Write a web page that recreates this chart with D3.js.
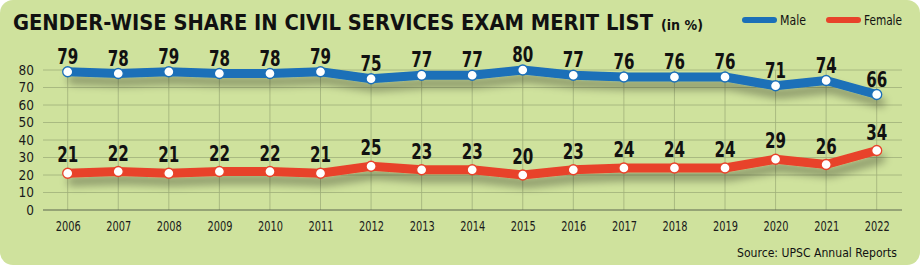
<!DOCTYPE html>
<html>
<head>
<meta charset="utf-8">
<script src="https://cdn.jsdelivr.net/npm/d3@7"></script>
<style>
  body { margin: 0; background: #fff; }
  svg { display: block; }
  text { font-family: "DejaVu Sans Condensed", "DejaVu Sans", sans-serif; }
</style>
</head>
<body>
<div id="container"></div>
<script>
// years and shares (in %)
const years = [2006, 2007, 2008, 2009, 2010, 2011, 2012, 2013, 2014, 2015, 2016, 2017, 2018, 2019, 2020, 2021, 2022];
const male = [79, 78, 79, 78, 78, 79, 75, 77, 77, 80, 77, 76, 76, 76, 71, 74, 66];
const female = [21, 22, 21, 22, 22, 21, 25, 23, 23, 20, 23, 24, 24, 24, 29, 26, 34];
const yTicks = [0, 10, 20, 30, 40, 50, 60, 70, 80];

const w = 923;
const h = 268;

const svg = d3.select("#container")
  .append("svg")
  .attr("width", w)
  .attr("height", h);

const defs = svg.append("defs");
const shadow = defs.append("filter")
  .attr("id", "shadow")
  .attr("x", "-10%").attr("y", "-60%")
  .attr("width", "120%").attr("height", "300%");
shadow.append("feGaussianBlur").attr("in", "SourceAlpha").attr("stdDeviation", 4);
shadow.append("feOffset").attr("dx", 4).attr("dy", 8).attr("result", "blur");
shadow.append("feComponentTransfer").append("feFuncA").attr("type", "linear").attr("slope", 0.35);
const merge = shadow.append("feMerge");
merge.append("feMergeNode");
merge.append("feMergeNode").attr("in", "SourceGraphic");

//THE PANEL
svg.append("rect")
  .attr("x", 0)
  .attr("y", 0)
  .attr("width", 920)
  .attr("height", 265)
  .attr("rx", 13)
  .attr("fill", "#cfe29d");

//THE SCALES
const xScale = d3.scalePoint()
  .domain(years)
  .range([67.7, 876.7]);

const yScale = d3.scaleLinear()
  .domain([0, 80])
  .range([210, 70]);

//THE GRID
svg.append("g")
  .selectAll("line")
  .data(yTicks.slice(1))
  .join("line")
  .attr("x1", 43)
  .attr("x2", 902)
  .attr("y1", d => yScale(d))
  .attr("y2", d => yScale(d))
  .attr("stroke", "#9fb07a")
  .attr("stroke-width", 0.8);

svg.append("g")
  .selectAll("line")
  .data(years)
  .join("line")
  .attr("x1", d => xScale(d))
  .attr("x2", d => xScale(d))
  .attr("y1", yScale(80))
  .attr("y2", yScale(0))
  .attr("stroke", "#9fb07a")
  .attr("stroke-width", 0.8);

svg.append("line")
  .attr("x1", 43)
  .attr("x2", 902)
  .attr("y1", yScale(0))
  .attr("y2", yScale(0))
  .attr("stroke", "#5d6650")
  .attr("stroke-width", 1.2);

//THE AXES
const yAxis = d3.axisLeft(yScale).tickValues(yTicks).tickSize(0).tickPadding(0);
svg.append("g")
  .attr("transform", "translate(34,0)")
  .call(yAxis)
  .call(g => g.select(".domain").remove())
  .call(g => g.selectAll("text")
    .attr("font-family", null)
    .attr("font-size", 13.5)
    .attr("fill", "#1a1a1a"));

const xAxis = d3.axisBottom(xScale).tickSize(0).tickPadding(0).tickFormat(d3.format("d"));
svg.append("g")
  .attr("transform", "translate(0,221)")
  .call(xAxis)
  .call(g => g.select(".domain").remove())
  .call(g => g.selectAll("text")
    .attr("font-family", null)
    .attr("font-size", 14)
    .attr("fill", "#1a1a1a")
    .attr("textLength", 25)
    .attr("lengthAdjust", "spacingAndGlyphs"));

//THE LINES
const series = [
  { name: "Male", values: male, color: "#1b6fb8", gap: 8 },
  { name: "Female", values: female, color: "#e8432a", gap: 11 }
];

const line = d3.line()
  .x((d, i) => xScale(years[i]))
  .y(d => yScale(d));

series.forEach(s => {
  svg.append("path")
    .datum(s.values)
    .attr("d", line)
    .attr("fill", "none")
    .attr("stroke", s.color)
    .attr("stroke-width", 9)
    .attr("stroke-linejoin", "round")
    .attr("stroke-linecap", "round")
    .attr("filter", "url(#shadow)");

  svg.append("g")
    .selectAll("circle")
    .data(s.values)
    .join("circle")
    .attr("cx", (d, i) => xScale(years[i]))
    .attr("cy", d => yScale(d))
    .attr("r", 5)
    .attr("fill", "#fff")
    .attr("stroke", s.color)
    .attr("stroke-width", 1.3);

  svg.append("g")
    .selectAll("text")
    .data(s.values)
    .join("text")
    .attr("transform", (d, i) => `translate(${xScale(years[i])},${yScale(d) - s.gap}) scale(0.8,1)`)
    .attr("text-anchor", "middle")
    .attr("font-size", 21)
    .attr("font-weight", "bold")
    .attr("fill", "#111")
    .text(d => d);
});

//THE TITLE
svg.append("text")
  .attr("x", 13)
  .attr("y", 30)
  .attr("font-size", 21)
  .attr("font-weight", "bold")
  .attr("fill", "#111")
  .attr("textLength", 640)
  .attr("lengthAdjust", "spacingAndGlyphs")
  .text("GENDER-WISE SHARE IN CIVIL SERVICES EXAM MERIT LIST");

svg.append("text")
  .attr("x", 661)
  .attr("y", 30)
  .attr("font-size", 14)
  .attr("font-weight", "bold")
  .attr("fill", "#111")
  .attr("textLength", 42)
  .attr("lengthAdjust", "spacingAndGlyphs")
  .text("(in %)");

//THE LEGEND
const legendX = [745, 829];
series.forEach((s, i) => {
  svg.append("line")
    .attr("x1", legendX[i])
    .attr("x2", legendX[i] + 29)
    .attr("y1", 20)
    .attr("y2", 20)
    .attr("stroke", s.color)
    .attr("stroke-width", 6)
    .attr("stroke-linecap", "round");
  svg.append("text")
    .attr("x", legendX[i] + 35)
    .attr("y", 25)
    .attr("font-size", 14)
    .attr("fill", "#111")
    .attr("textLength", i === 0 ? 26 : 38)
    .attr("lengthAdjust", "spacingAndGlyphs")
    .text(s.name);
});

//THE SOURCE
svg.append("text")
  .attr("x", 897)
  .attr("y", 257)
  .attr("text-anchor", "end")
  .attr("font-size", 13)
  .attr("fill", "#111")
  .attr("textLength", 160)
  .attr("lengthAdjust", "spacingAndGlyphs")
  .text("Source: UPSC Annual Reports");
</script>
</body>
</html>
